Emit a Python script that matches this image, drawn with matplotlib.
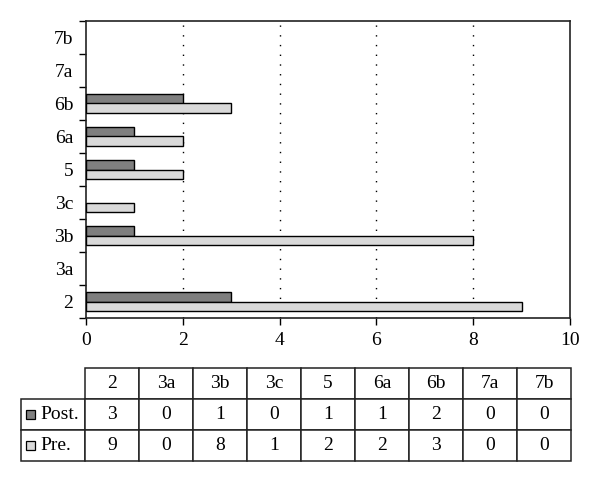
import numpy as np
import matplotlib.pyplot as plt
from matplotlib.patches import Rectangle

categories = ["2", "3a", "3b", "3c", "5", "6a", "6b", "7a", "7b"]
post = [3, 0, 1, 0, 1, 1, 2, 0, 0]
pre = [9, 0, 8, 1, 2, 2, 3, 0, 0]
series_names = ["Post.", "Pre."]
x_ticks = [0, 2, 4, 6, 8, 10]

post_color = "#7f7f7f"
pre_color = "#d9d9d9"

plt.rcParams['font.family'] = ['Liberation Serif', 'DejaVu Serif']
fs = 14

W, H = 600, 482
fig = plt.figure(figsize=(6, 4.82), dpi=100)
ax = fig.add_axes([86/W, 1-318/H, (570-86)/W, (318-21)/H])

y = np.arange(len(categories))
h = 0.29
ax.barh(y + h/2, post, height=h, color=post_color, edgecolor="black",
        linewidth=[1 if v > 0 else 0 for v in post], zorder=3)
ax.barh(y - h/2, pre, height=h, color=pre_color, edgecolor="black",
        linewidth=[1 if v > 0 else 0 for v in pre], zorder=3)

ax.set_xlim(0, 10)
ax.set_ylim(-0.5, len(categories) - 0.5)
ax.set_xticks(x_ticks)
ax.set_xticklabels([str(v) for v in x_ticks], fontsize=fs)
ax.tick_params(axis="x", direction="out", length=5, width=1, pad=5)

# boundary ticks, labels in the middle
ax.set_yticks(np.arange(len(categories) + 1) - 0.5)
ax.set_yticklabels([])
ax.set_yticks(y, minor=True)
ax.set_yticklabels(categories, minor=True, fontsize=fs)
ax.tick_params(axis="y", which="major", direction="out", length=5, width=1)
ax.tick_params(axis="y", which="minor", length=0, pad=9)

for v in x_ticks[1:-1]:
    ax.axvline(v, color="black", linestyle=(0, (1, 6)), linewidth=1, zorder=1)

for s in ax.spines.values():
    s.set_linewidth(1.2)
    s.set_color("#222222")

# data table underneath
t_left, t_right, t_top, t_bot = 21, 571, 368, 461
tax = fig.add_axes([t_left/W, 1-t_bot/H, (t_right-t_left)/W, (t_bot-t_top)/H])
tax.axis("off")
cell_text = [[""] + categories,
             [""] + [str(v) for v in post],
             [""] + [str(v) for v in pre]]
widths = [64] + [54] * len(categories)
widths = [w / sum(widths) for w in widths]
tbl = tax.table(cellText=cell_text, colWidths=widths, cellLoc="center",
                bbox=[0, 0, 1, 1])
tbl.auto_set_font_size(False)
for (r, c), cell in tbl.get_celld().items():
    cell.set_linewidth(1.1)
    cell.set_edgecolor("#222222")
    cell.get_text().set_fontsize(fs)
tbl[0, 0].visible_edges = "BR"
tbl[0, 0].set_linewidth(0)

# legend keys and names in the row label cells
row_h = (t_bot - t_top) / 3
for i, (name, col) in enumerate(zip(series_names, [post_color, pre_color])):
    yc = t_top + row_h * (i + 1.5)
    fig.add_artist(Rectangle((26/W, 1-(yc+4.5)/H), 9/W, 9/H,
                             transform=fig.transFigure, facecolor=col,
                             edgecolor="black", linewidth=0.9))
    fig.text(40/W, 1-yc/H, name, fontsize=fs, va="center", ha="left")

fig.savefig("out.png", dpi=100)
